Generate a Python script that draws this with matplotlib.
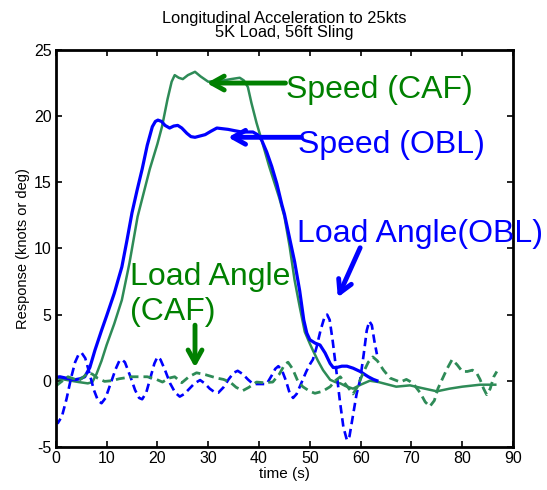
import numpy as np
import matplotlib.pyplot as plt

plt.rcParams['font.family'] = ['Liberation Sans', 'DejaVu Sans']
plt.rcParams['axes.unicode_minus'] = False

# Speed (CAF) - hijau solid
t_spd_caf = [0, 1.5, 3, 4.5, 6.3, 7.2, 8, 9, 10, 11.5, 13, 14.5, 16.1, 17.1, 18.5, 20, 20.9, 22, 22.8, 23.4,
             24.2, 25, 26, 27.4, 28.5, 30, 31.5, 33, 34.5, 36.2, 37, 37.8, 38.5, 39.5, 40.5, 42, 44, 45, 46,
             47, 48, 49, 50, 50.6, 51.6, 52.6, 54, 55, 56, 57, 58.5, 60, 61.8, 63.5, 65, 67, 69.7, 72, 75,
             77.5, 80, 83.5, 86.5]
v_spd_caf = [0.2, 0.1, 0.0, -0.1, -0.2, -0.1, 0.5, 1.5, 2.7, 4.3, 6.1, 8.9, 12.4, 13.9, 16.0, 17.9, 19.2, 21.3, 22.6, 23.1,
             22.9, 22.8, 23.1, 23.35, 23.0, 22.6, 22.65, 22.7, 22.8, 22.9, 22.7, 22.2, 21.0, 19.5, 18.2, 16.2, 13.8, 12.4, 10.2,
             7.6, 5.6, 3.7, 2.8, 2.3, 1.5, 0.8, 0.07, -0.1, -0.2, -0.4, -0.6, -0.3, 0.0, -0.1, -0.25, -0.45, -0.35, -0.55, -0.8,
             -0.6, -0.45, -0.3, -0.3]

# Speed (OBL) - biru solid
t_spd_obl = [0, 0.8, 2, 3.7, 4.8, 5.7, 6.7, 7.7, 9, 10, 11.5, 13, 14, 15, 16, 17, 18, 19, 19.6, 20.1, 20.8,
             21.5, 22.4, 23.2, 24, 24.8, 25.8, 26.6, 27.4, 28.4, 29.4, 30.5, 31.7, 32.8, 33.9, 35.2, 36.6, 38,
             38.8, 39.7, 40.5, 41.5, 42.5, 43.5, 44.5, 45, 46, 47, 48, 48.8, 49.4, 50, 51, 52, 53, 54, 54.6,
             55.3, 56.3, 57.3, 58.5, 59.9, 61.5, 62.5, 63.2]
v_spd_obl = [0.25, 0.3, 0.2, 0.07, 0.15, 0.3, 1.0, 2.3, 3.8, 4.9, 6.6, 8.6, 10.6, 12.7, 14.4, 16.0, 17.8, 19.2, 19.6, 19.7, 19.6,
             19.3, 19.1, 19.25, 19.3, 19.1, 18.7, 18.45, 18.4, 18.5, 18.6, 18.85, 19.1, 19.05, 19.0, 18.9, 18.8, 18.8,
             18.8, 18.6, 18.2, 17.3, 16.2, 14.9, 13.3, 12.6, 10.8, 9.0, 6.8, 4.6, 3.6, 3.1, 2.85, 2.7, 2.1, 1.3, 1.0,
             1.0, 1.1, 1.1, 0.95, 0.7, 0.3, 0.1, 0.0]

# Load Angle (OBL) - biru putus-putus
t_la_obl = [0, 0.4, 1.2, 2.1, 3.0, 3.8, 4.5, 5.1, 5.8, 6.6, 7.5, 8.3, 9.0, 9.8, 10.8, 11.8, 12.5, 13.0, 13.6,
            14.6, 15.6, 16.4, 17.0, 17.8, 18.6, 19.4, 20.0, 20.6, 21.5, 22.5, 23.5, 24.4, 25.3, 26.3, 27.3, 28.4,
            29.3, 30.3, 31.2, 32.0, 33.0, 34.0, 35.0, 35.8, 36.8, 37.8, 38.7, 39.5, 40.5, 41.5, 42.5, 43.2, 43.8,
            44.5, 45.3, 46.0, 46.7, 47.4, 48.3, 49.3, 50.1, 50.6, 51.3, 52.1, 52.8, 53.4, 53.9, 54.5, 55.2, 55.9,
            56.6, 57.3, 57.8, 58.5, 59.2, 59.9, 60.6, 61.2, 61.7, 62.2, 62.7, 63.2]
v_la_obl = [-3.0, -3.2, -2.7, -1.4, 0.2, 1.4, 2.0, 2.1, 1.7, 0.6, -0.7, -1.5, -1.7, -1.3, -0.2, 0.9, 1.5, 1.6, 1.4,
            0.4, -0.7, -1.3, -1.4, -0.9, 0.2, 1.3, 1.8, 1.6, 0.8, -0.2, -0.9, -1.2, -1.0, -0.6, -0.2, 0.05,
            -0.2, -0.6, -0.85, -0.9, -0.5, 0.1, 0.6, 0.75, 0.5, 0.1, -0.2, -0.25, -0.25, -0.25, 0.4, 0.9, 1.1,
            0.8, 0.0, -0.9, -1.3, -1.0, -0.2, 0.7, 1.3, 1.6, 2.5, 3.8, 4.7, 5.0, 4.6, 3.0, 0.8, -1.5,
            -3.5, -4.5, -4.2, -2.6, -1.0, 0.07, 2.0, 3.8, 4.5, 4.2, 3.0, 2.0]

# Load Angle (CAF) - hijau putus-putus
t_la_caf = [0, 1, 2.4, 3.5, 4.5, 5.5, 6.3, 7.2, 8.2, 9.6, 11, 12.5, 15, 18, 19.5, 21, 22.3, 23.4, 24.8, 26.2,
            27.7, 29.5, 31.7, 33, 34.3, 35.5, 36.8, 38, 39.5, 41, 42.7, 44, 45, 45.7, 46.6, 47.6, 48.6, 50, 51,
            52.5, 54, 55, 56, 56.9, 57.9, 58.5, 59.3, 60.5, 61.5, 62.4, 63.3, 64.5, 65.8, 67.8, 69, 69.7, 70.5,
            71.7, 72.7, 73.6, 74.5, 75.2, 76, 77, 78, 79, 80, 81, 82, 82.8, 83.5, 84.2, 84.8, 85.5, 86.2, 86.8]
v_la_caf = [-0.4, -0.1, 0.3, 0.15, 0.0, 0.3, 0.6, 0.5, 0.2, -0.05, 0.0, 0.15, 0.3, 0.3, 0.15, -0.1, 0.2, 0.3, -0.15, 0.3,
            0.6, 0.45, 0.2, 0.1, -0.1, -0.5, -0.75, -0.5, -0.1, -0.15, -0.1, 0.5, 1.2, 1.4, 0.9, 0.0, -0.45, -0.8, -0.95,
            -0.8, -0.45, 0.0, 0.3, -0.2, -0.7, -1.0, -0.5, 0.6, 1.4, 1.8, 1.5, 0.8, 0.2, -0.1, 0.1, -0.05, -0.3,
            -0.9, -1.6, -1.95, -1.5, -0.6, 0.07, 0.9, 1.6, 1.2, 0.7, 0.7, 0.8, 0.6, 0.1, -0.6, -1.05, -0.6, 0.3, 0.7]

garis_hijau = '#2E8B57'
teks_hijau = '#008000'
biru = '#0000FF'

fig = plt.figure(figsize=(5.47, 4.90), dpi=100)
ax = fig.add_axes([0.102, 0.088, 0.836, 0.81])

ax.plot(t_spd_caf, v_spd_caf, color=garis_hijau, lw=1.8)
ax.plot(t_spd_obl, v_spd_obl, color=biru, lw=2.3)
ax.plot(t_la_obl, v_la_obl, color=biru, lw=1.9, ls=(0, (3.2, 1.8)))
ax.plot(t_la_caf, v_la_caf, color=garis_hijau, lw=2.0, ls=(0, (3.2, 1.8)))

ax.set_xlim(0, 90)
ax.set_ylim(-5, 25)
ax.set_xticks(np.arange(0, 91, 10))
ax.set_yticks(np.arange(-5, 26, 5))
ax.tick_params(direction='in', top=True, right=True, length=4, width=1.2, labelsize=11.5, pad=3)
for s in ax.spines.values():
    s.set_linewidth(2)

ax.set_title('Longitudinal Acceleration to 25kts\n5K Load, 56ft Sling', fontsize=11.8, linespacing=0.95, pad=9)
ax.set_xlabel('time (s)', fontsize=11, labelpad=1)
ax.set_ylabel('Response (knots or deg)', fontsize=10.5, labelpad=3)

# anotasi dengan panah
panah = dict(arrowstyle='->,head_length=0.9,head_width=0.5', lw=3.5, shrinkA=0, shrinkB=0)
ax.annotate('', xy=(29.7, 22.5), xytext=(45.2, 22.5),
            arrowprops=dict(panah, color=teks_hijau))
ax.text(45.3, 22.0, 'Speed (CAF)', color=teks_hijau, fontsize=23, va='center', ha='left')

ax.annotate('', xy=(33.9, 18.4), xytext=(48.3, 18.4),
            arrowprops=dict(panah, color=biru))
ax.text(47.6, 17.8, 'Speed (OBL)', color=biru, fontsize=23, va='center', ha='left')

ax.text(47.5, 11.1, 'Load Angle(OBL)', color=biru, fontsize=23, va='center', ha='left', clip_on=False)
ax.annotate('', xy=(55.5, 6.3), xytext=(59.9, 10.05),
            arrowprops=dict(panah, color=biru))

ax.text(14.6, 6.5, 'Load Angle\n(CAF)', color=teks_hijau, fontsize=23, va='center', ha='left', linespacing=1.2)
ax.annotate('', xy=(27.4, 1.0), xytext=(27.4, 4.2),
            arrowprops=dict(panah, color=teks_hijau))

fig.savefig('out.png', dpi=100)
